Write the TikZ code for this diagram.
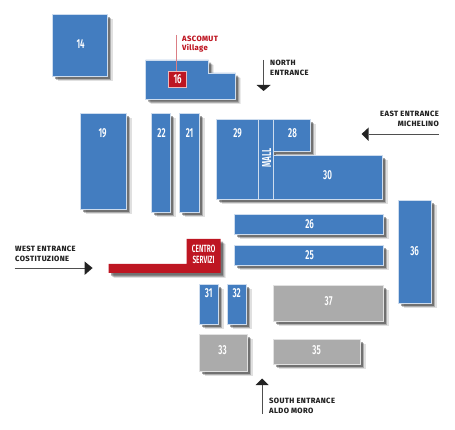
\documentclass[tikz,border=0pt]{standalone}
\usepackage{fontspec}
\usetikzlibrary{shadows}
\setmainfont{Fira Sans}[BoldFont={Fira Sans}]
\newfontfamily\labelfont{Fira Sans}[BoldFont={Fira Sans ExtraBold},LetterSpace=5]
\newfontfamily\numfont{Fira Sans}[FakeStretch=0.62,BoldFont={Fira Sans SemiBold}]
\definecolor{bblue}{RGB}{67,125,192}
\definecolor{bred}{RGB}{190,22,34}
\definecolor{bgray}{RGB}{171,171,171}
\definecolor{bedge}{RGB}{205,220,238}
\definecolor{gedge}{RGB}{225,225,225}
\definecolor{ink}{RGB}{35,35,35}
\tikzset{
  x=1pt,y=-1pt,
  softshadow/.style={
    general shadow={fill=black,opacity=.12,shadow xshift=5pt,shadow yshift=-5pt},
    general shadow={fill=black,opacity=.22,shadow xshift=3.8pt,shadow yshift=-3.8pt},
    general shadow={fill=black,opacity=.35,shadow xshift=2.6pt,shadow yshift=-2.6pt}},
  blue block/.style={softshadow,fill=bblue,draw=bedge,line width=.7pt},
  gray block/.style={softshadow,fill=bgray,draw=gedge,line width=.7pt},
  red block/.style={softshadow,fill=bred,draw=none},
  num/.style={text=white,font=\numfont\bfseries\fontsize{13}{13}\selectfont,inner sep=0pt},
  entry/.style={text=ink,font=\labelfont\bfseries\fontsize{7.6}{10}\selectfont,inner sep=0pt,align=left,anchor=west},
  guide/.style={draw=ink!80,line width=.6pt},
  head/.style={fill=ink,draw=none}
}
\begin{document}
\begin{tikzpicture}
\useasboundingbox[fill=white] (0,0) rectangle (455,430);
\begin{scope}[xshift=-0.4pt]
% blue buildings
\path[blue block] (53,14) rectangle (108,76);
\path[blue block] (146,60) -- (209,60) -- (209,73) -- (236,73) -- (236,99) -- (146,99) -- cycle;
\path[blue block] (81,113) rectangle (127,209);
\path[blue block] (152,113) rectangle (171,212);
\path[blue block] (180,113) rectangle (200,212);
\path[blue block] (217,119) rectangle (259,199);
\path[blue block] (259,119) rectangle (274,199);
\path[blue block] (274,119) rectangle (311,151);
\path[blue block] (274,155) rectangle (383,199);
\path[blue block] (235,214) rectangle (384,234);
\path[blue block] (235,245) rectangle (384,265);
\path[blue block] (399,200) rectangle (432,303);
\path[blue block] (200,284) rectangle (219,324);
\path[blue block] (228,284) rectangle (247,324);
% gray buildings
\path[gray block] (274,285) rectangle (384,321);
\path[gray block] (200,334) rectangle (248,371);
\path[gray block] (274,339) rectangle (361,364);
% red
\path[red block] (109,273) -- (109,264) -- (187,264) -- (187,239) -- (221,239) -- (221,273) -- cycle;
% ascomut
\coordinate (ascotop) at (177,35);
\node[fill=bred,draw=white!70!bred,line width=.6pt,minimum width=18pt,minimum height=16pt,inner sep=0pt,text=white,font=\numfont\bfseries\fontsize{13}{13}\selectfont] (n16) at (178,79) {16};
\draw[draw=bred!55,line width=.7pt] (ascotop) -- (ascotop |- n16.north);
% labels
\node[num] (n14) at (81,44) {14};
\node[num] (n19) at (103,133) {19};
\node[num] (n22) at (162,133) {22};
\node[num] (n21) at (190,133) {21};
\node[num] (n29) at (238,133) {29};
\node[num] (n28) at (293,133) {28};
\node[num] (n30) at (328,175) {30};
\node[num,rotate=90] (mall) at (267,158) {MALL};
\node[num] (n26) at (310,224) {26};
\node[num] (n25) at (310,255) {25};
\node[num] (n36) at (415,251) {36};
\node[num] (n31) at (209,293) {31};
\node[num] (n32) at (237,293) {32};
\node[num] (n37) at (329,301) {37};
\node[num] (n33) at (223,350) {33};
\node[num] (n35) at (317,350) {35};
\node[num,align=center,font=\numfont\bfseries\fontsize{10.5}{11}\selectfont] (cs) at (204,254.5) {CENTRO\\SERVIZI};
% north
\coordinate (na) at (264,60); \coordinate (nb) at (264,85);
\draw[guide] (na) -- (nb);
\path[head] (257,85) -- (271,85) -- (264,91) -- cycle;
% east
\coordinate (ea) at (439,134); \coordinate (eb) at (369,134);
\draw[guide] (ea) -- (eb);
\path[head] (369,127.5) -- (369,141) -- (362,134) -- cycle;
% west
\coordinate (wa) at (15,268); \coordinate (wb) at (85,268);
\draw[guide] (wa) -- (wb);
\path[head] (85,261.5) -- (85,275) -- (93,268) -- cycle;
% south
\coordinate (sa) at (262.5,414); \coordinate (sb) at (262.5,385);
\draw[guide] (sa) -- (sb);
\path[head] (256,385) -- (269,385) -- (262.5,378.5) -- cycle;
\end{scope}
\node[entry,text=bred] (asco) at (182,39) {ASCOMUT};
\node[entry,text=bred] (vill) at (182,48) {Village};
\node[entry] (nt) at (270,68) {NORTH\\ENTRANCE};
\node[entry,align=right,anchor=east] (et) at (439,119) {EAST ENTRANCE\\MICHELINO};
\node[entry] (wt) at (15,254) {WEST ENTRANCE\\COSTITUZIONE};
\node[entry] (st) at (269,406) {SOUTH ENTRANCE\\ALDO MORO};
\end{tikzpicture}
\end{document}
